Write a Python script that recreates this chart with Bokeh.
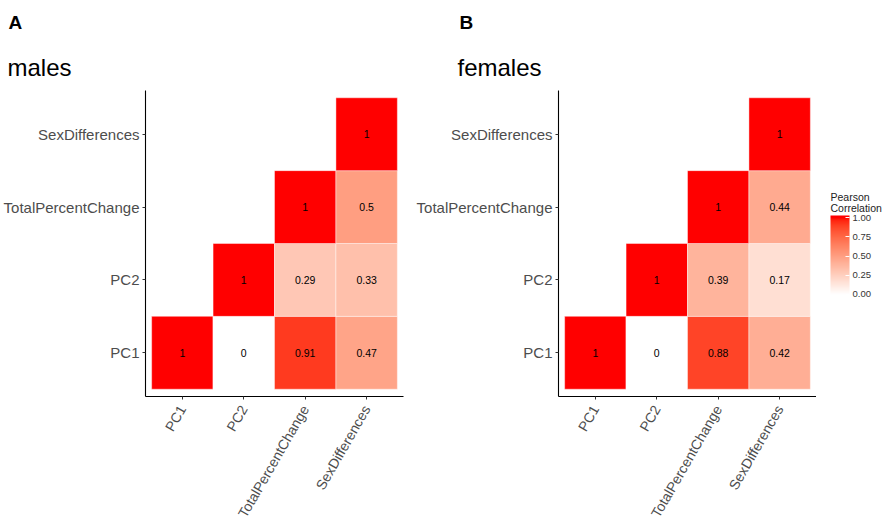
import math
from bokeh.plotting import figure
from bokeh.models import (FactorRange, ColumnDataSource, Label, Title, ColorBar,
                          LinearColorMapper, FixedTicker, PrintfTickFormatter, Range1d)
from bokeh.layouts import row
from bokeh.embed import file_html
from bokeh.resources import INLINE
from bokeh.core.properties import value

# ---------------- data ----------------
variables = ["PC1", "PC2", "TotalPercentChange", "SexDifferences"]
cell_x = ["PC1", "PC2", "TotalPercentChange", "SexDifferences",
          "PC2", "TotalPercentChange", "SexDifferences",
          "TotalPercentChange", "SexDifferences",
          "SexDifferences"]
cell_y = ["PC1", "PC1", "PC1", "PC1",
          "PC2", "PC2", "PC2",
          "TotalPercentChange", "TotalPercentChange",
          "SexDifferences"]
males_r = [1, 0, 0.91, 0.47, 1, 0.29, 0.33, 1, 0.5, 1]
females_r = [1, 0, 0.88, 0.42, 1, 0.39, 0.17, 1, 0.44, 1]
legend_ticks = [0, 0.25, 0.5, 0.75, 1]
panel_tags = ["A", "B"]
panel_titles = ["males", "females"]
legend_title_lines = ["Pearson", "Correlation"]

FONT = "Liberation Sans"

# ------------- colour scale (white -> red, Lab interpolation) -------------
XN, YN, ZN = 0.95047, 1.0, 1.08883


def _to_lin(c):
    c = c / 255.0
    return c / 12.92 if c <= 0.04045 else ((c + 0.055) / 1.055) ** 2.4


def _to_srgb(c):
    c = max(0.0, c)
    v = 12.92 * c if c <= 0.0031308 else 1.055 * c ** (1 / 2.4) - 0.055
    return int(max(0, min(255, round(v * 255))))


def rgb_to_lab(r, g, b):
    R, G, B = _to_lin(r), _to_lin(g), _to_lin(b)
    X = 0.4124 * R + 0.3576 * G + 0.1805 * B
    Y = 0.2126 * R + 0.7152 * G + 0.0722 * B
    Z = 0.0193 * R + 0.1192 * G + 0.9505 * B

    def f(t):
        return t ** (1 / 3) if t > 216 / 24389 else (24389 / 27 * t + 16) / 116
    fx, fy, fz = f(X / XN), f(Y / YN), f(Z / ZN)
    return 116 * fy - 16, 500 * (fx - fy), 200 * (fy - fz)


def lab_to_hex(L, a, b):
    fy = (L + 16) / 116
    fx = fy + a / 500
    fz = fy - b / 200

    def finv(t):
        return t ** 3 if t ** 3 > 216 / 24389 else (116 * t - 16) / (24389 / 27)
    X, Y, Z = XN * finv(fx), YN * finv(fy), ZN * finv(fz)
    R = 3.2406 * X - 1.5372 * Y - 0.4986 * Z
    G = -0.9689 * X + 1.8758 * Y + 0.0415 * Z
    B = 0.0557 * X - 0.2040 * Y + 1.0570 * Z
    return "#%02x%02x%02x" % (_to_srgb(R), _to_srgb(G), _to_srgb(B))


LAB_LO = rgb_to_lab(255, 255, 255)
LAB_HI = rgb_to_lab(255, 0, 0)


def fill_for(v):
    t = max(0.0, min(1.0, v))
    return lab_to_hex(*[lo + (hi - lo) * t for lo, hi in zip(LAB_LO, LAB_HI)])


# colour bar runs slightly past 0 and 1 (as in the original guide)
CB_LOW, CB_HIGH = -0.026, 1.026
palette = [fill_for(CB_LOW + (CB_HIGH - CB_LOW) * i / 255) for i in range(256)]

HEIGHT = 527
B_TOP = 90
B_BOTTOM = 129
FRAME_BOTTOM = HEIGHT - B_BOTTOM   # 398


def make_panel(vals, title, tag, width, b_left, b_right, off_title, off_tag):
    p = figure(
        x_range=FactorRange(factors=variables, range_padding=0.1, range_padding_units="absolute"),
        y_range=FactorRange(factors=variables, range_padding=0.1, range_padding_units="absolute"),
        width=width, height=HEIGHT,
        min_border_left=b_left, min_border_right=b_right,
        min_border_top=B_TOP, min_border_bottom=B_BOTTOM,
        output_backend="svg", toolbar_location=None, title=None,
    )
    src = ColumnDataSource(dict(
        x=cell_x, y=cell_y, r=vals,
        color=[fill_for(v) for v in vals],
        label=[f"{v:g}" for v in vals],
    ))
    p.rect(x="x", y="y", width=1, height=1, source=src, fill_color="color",
           line_color="white", line_width=0.7, line_alpha=0.6)
    p.text(x="x", y="y", text="label", source=src, text_align="center",
           text_baseline="middle", text_font_size="10.5px",
           text_font=value(FONT), text_color="black")

    p.add_layout(Title(text=title, align="left", offset=off_title,
                       text_font_size="24px", text_font_style="normal",
                       text_color="black", text_font=FONT, standoff=20), "above")
    p.add_layout(Title(text=tag, align="left", offset=off_tag,
                       text_font_size="19px", text_font_style="bold",
                       text_color="black", text_font=FONT, standoff=17), "above")

    p.grid.visible = False
    p.outline_line_color = None
    p.axis.axis_line_color = "black"
    p.axis.axis_line_width = 1.1
    p.axis.major_tick_line_color = "#333333"
    p.axis.major_tick_out = 3
    p.axis.major_tick_in = 0
    p.axis.major_label_standoff = 3
    p.xaxis.major_label_standoff = 7
    p.axis.major_label_text_color = "#4d4d4d"
    p.axis.major_label_text_font = FONT
    p.yaxis.major_label_text_font_size = "15px"
    p.xaxis.major_label_text_font_size = "14px"
    p.xaxis.major_label_orientation = math.pi / 3
    return p


# frames: left panel x 144..403, right panel x 557..816, both y 90..398
p1 = make_panel(males_r, panel_titles[0], panel_tags[0], 413, 144, 10, -138, -137)
p2 = make_panel(females_r, panel_titles[1], panel_tags[1], 403, 144, 0, -101, -99)

# ---------------- legend (its own small canvas, same vertical borders) ----------------
LEG_W = 72
leg = figure(width=LEG_W, height=HEIGHT, x_range=Range1d(0, 1), y_range=Range1d(0, 1),
             min_border_left=0, min_border_right=0,
             min_border_top=B_TOP, min_border_bottom=B_BOTTOM,
             x_axis_location=None, y_axis_location=None,
             output_backend="svg", toolbar_location=None, title=None)
leg.grid.visible = False
leg.outline_line_color = None

mapper = LinearColorMapper(palette=palette, low=CB_LOW, high=CB_HIGH)
cb = ColorBar(
    color_mapper=mapper, ticker=FixedTicker(ticks=legend_ticks),
    formatter=PrintfTickFormatter(format="%.2f"),
    width=19, height=81, location=(14, FRAME_BOTTOM - 298), padding=0, margin=0,
    title=None,
    major_label_text_font_size="9.5px", major_label_text_font=FONT,
    major_label_text_color="#333333", label_standoff=3,
    major_tick_line_color="white", major_tick_in=4, major_tick_out=0,
    bar_line_color=None, border_line_color=None,
    background_fill_color=None,
)
leg.add_layout(cb, "center")
for txt, base in zip(legend_title_lines, [198, 209]):
    leg.add_layout(Label(x=14, y=FRAME_BOTTOM - base, x_units="screen", y_units="screen",
                         text=txt, text_font=FONT, text_font_size="10.5px",
                         text_color="#222222", text_baseline="alphabetic",
                         text_align="left"))

layout = row(p1, p2, leg)
with open("out.html", "w") as f:
    f.write(file_html(layout, INLINE))
